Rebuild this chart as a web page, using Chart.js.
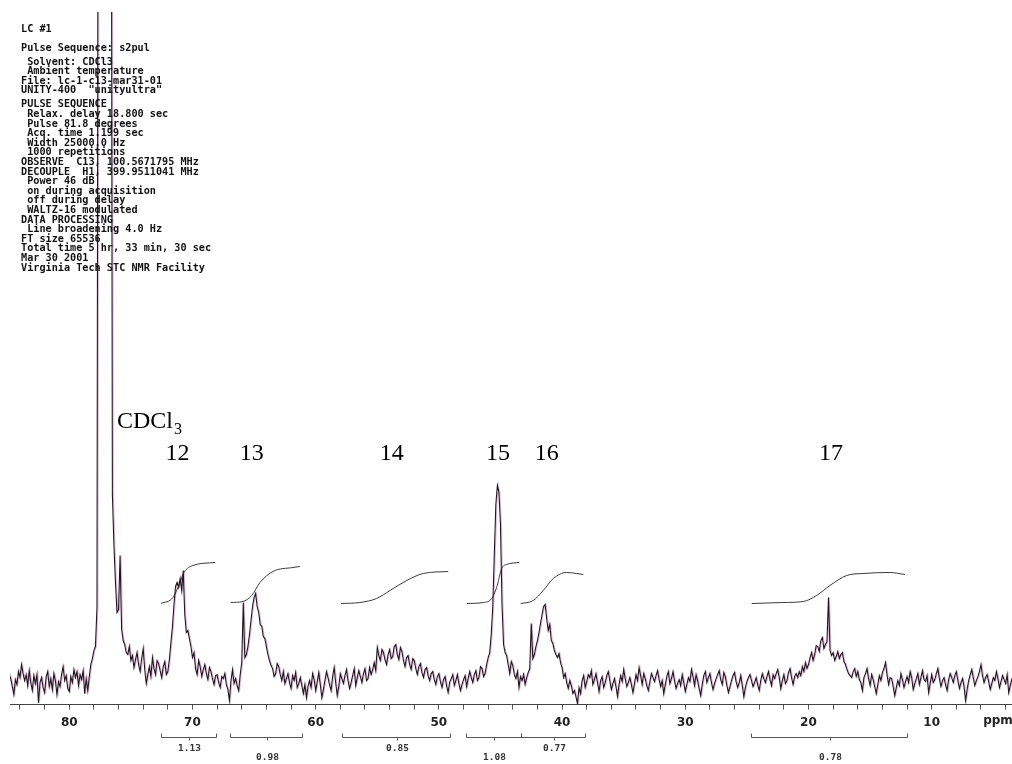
<!DOCTYPE html>
<html>
<head>
<meta charset="utf-8">
<title>LC #1 - 13C NMR</title>
<script src="https://cdn.jsdelivr.net/npm/chart.js@4.4.1/dist/chart.umd.min.js"></script>
<style>
  html, body { margin: 0; padding: 0; background: #fff; }
</style>
</head>
<body>
<canvas id="spectrum" width="1012" height="764"></canvas>
<script>
// trace sampled every 0.125 ppm from 85 ppm downwards, one row per ppm
const gridStart = 85;
const gridStep = 0.125;
const intensity = [
  22, 30, 26, 18, 10, 25, 20, 33,              // 85
  27, 40, 31, 24, 30, 19, 34, 22,              // 84
  14, 29, 21, 30, 2, 22, 27, 17,               // 83
  12, 28, 33, 18, 26, 15, 31, 24,              // 82
  10, 23, 18, 30, 38, 24, 29, 16,              // 81
  13, 28, 22, 35, 27, 33, 19, 30,              // 80
  25, 34, 11, 26, 14, 28, 40, 46,              // 79
  54, 58, 97, 1200, 1500, 1400, 1700, 1500,    // 78  CDCl3
  1800, 1500, 1600, 1200, 210, 160, 122, 92,   // 77
  95, 149, 75, 64, 60, 52, 50, 58,             // 76
  44, 49, 37, 45, 52, 40, 33, 46,              // 75
  56, 35, 21, 30, 38, 28, 47, 36,              // 74
  30, 44, 41, 34, 27, 38, 43, 30,              // 73
  33, 45, 62, 78, 100, 118, 122, 117,          // 72  peak 12
  126, 114, 134, 90, 72, 74, 66, 58,           // 71
  47, 52, 36, 30, 44, 38, 28, 35,              // 70
  40, 31, 25, 37, 33, 26, 20, 29,              // 69
  30, 22, 17, 28, 26, 31, 20, 15,              // 68
  4, 24, 35, 21, 26, 19, 14, 30,               // 67
  42, 102, 47, 50, 58, 70, 84, 98,             // 66  peak 13
  107, 111, 98, 92, 80, 78, 68, 66,            // 65
  58, 50, 44, 39, 36, 28, 31, 41,              // 64
  38, 30, 24, 33, 21, 26, 31, 22,              // 63
  16, 29, 24, 32, 17, 21, 27, 19,              // 62
  11, 20, 7, 18, 24, 17, 31, 25,               // 61
  14, 23, 32, 20, 7, 15, 24, 33,               // 60
  27, 20, 14, 28, 37, 22, 9, 18,               // 59
  31, 26, 21, 29, 35, 24, 16, 22,              // 58
  29, 36, 19, 27, 34, 28, 22, 31,              // 57
  36, 24, 26, 37, 30, 35, 42, 34,              // 56
  57, 49, 44, 55, 52, 45, 40, 50,              // 55  peak 14
  55, 46, 48, 58, 60, 50, 45, 57,              // 54
  53, 44, 38, 47, 49, 40, 35, 46,              // 53
  44, 36, 30, 38, 41, 32, 27, 35,              // 52
  37, 29, 24, 31, 33, 25, 20, 28,              // 51
  31, 23, 17, 25, 28, 19, 12, 22,              // 50
  26, 30, 19, 24, 30, 21, 14, 20,              // 49
  25, 29, 18, 26, 33, 27, 22, 30,              // 48
  34, 24, 27, 38, 36, 28, 31, 40,              // 47
  47, 52, 70, 98, 150, 200, 219, 212,          // 46  peak 15
  180, 100, 60, 52, 49, 40, 31, 43,            // 45
  39, 30, 26, 33, 17, 28, 24, 30,              // 44
  20, 27, 32, 36, 81, 46, 50, 58,              // 43  peak 16
  64, 72, 81, 90, 98, 100, 86, 74,             // 42
  80, 64, 61, 54, 50, 47, 51, 42,              // 41
  37, 27, 31, 22, 16, 24, 19, 11,              // 40
  14, 8, 1, 17, 11, 24, 29, 17,                // 39
  23, 30, 27, 34, 20, 25, 31, 22,              // 38
  13, 24, 28, 17, 22, 29, 33, 24,              // 37
  15, 21, 26, 18, 8, 20, 29, 23,               // 36
  35, 26, 18, 22, 27, 20, 12, 21,              // 35
  30, 24, 37, 29, 20, 31, 26, 19,              // 34
  14, 23, 31, 27, 23, 29, 34, 25,              // 33
  18, 24, 11, 20, 28, 33, 21, 26,              // 32
  33, 24, 16, 21, 25, 19, 30, 22,              // 31
  13, 20, 27, 23, 35, 28, 19, 30,              // 30
  24, 16, 9, 20, 29, 33, 22, 27,               // 29
  31, 22, 15, 21, 26, 30, 34, 25,              // 28
  20, 32, 28, 19, 12, 18, 24, 29,              // 27
  32, 23, 17, 22, 29, 19, 8, 17,               // 26
  23, 27, 30, 24, 18, 22, 27, 20,              // 25
  14, 24, 31, 26, 22, 28, 33, 25,              // 24
  19, 30, 26, 31, 35, 27, 16, 24,              // 23
  30, 21, 24, 32, 36, 27, 20, 28,              // 22
  31, 27, 33, 29, 38, 33, 42, 36,              // 21  peak 17
  40, 47, 52, 44, 50, 59, 58, 53,              // 20
  64, 67, 56, 60, 63, 107, 54, 49,             // 19
  52, 44, 48, 53, 46, 50, 52, 43,              // 18
  40, 35, 31, 29, 27, 33, 36, 28,              // 17
  33, 25, 22, 14, 27, 31, 36, 26,              // 16
  19, 30, 25, 18, 11, 20, 29, 24,              // 15
  32, 36, 42, 30, 20, 27, 26, 18,              // 14
  9, 17, 24, 19, 31, 25, 17, 23,               // 13
  28, 22, 33, 27, 15, 21, 26, 31,              // 12
  20, 27, 34, 25, 23, 29, 12, 21,              // 11
  30, 22, 25, 31, 36, 26, 18, 24,              // 10
  27, 20, 14, 25, 31, 27, 22, 29,              // 9
  33, 24, 16, 22, 26, 18, 4, 15,               // 8
  24, 30, 35, 27, 19, 24, 28, 33,              // 7
  40, 29, 22, 27, 30, 23, 15, 21,              // 6
  27, 24, 33, 26, 17, 23, 29, 25,              // 5
  21, 30, 12, 19, 25, 20, 28, 22               // 4
];

// integral curves drawn above peaks 12..17
const integralShift = [
  [72.56, 71.58, 71.01, 70.69, 69.96, 68.18],
  [66.9, 65.92, 65.19, 64.52, 63.47, 61.84, 61.28],
  [57.95, 56.41, 55.05, 53.97, 52.61, 51.27, 49.24],
  [47.74, 46.4, 45.71, 45.31, 44.9, 44.5, 43.47],
  [43.36, 42.34, 41.53, 40.71, 39.63, 38.81, 38.28],
  [24.61, 22.05, 20.42, 19.34, 18.26, 16.9, 15.55, 13.39, 12.17]
];
const integralHeight = [
  [101, 107, 122, 132, 139, 142],
  [102, 103, 109, 122, 133, 137, 138],
  [101, 102, 106, 114, 124, 131, 133],
  [101, 102, 106, 117, 136, 140, 142],
  [101, 104, 114, 126, 132, 131, 130],
  [101, 102, 103, 109, 119, 129, 131, 132, 130]
];

// integral values under the axis and their ranges
const integralLabels = ['1.13', '0.98', '0.85', '1.08', '0.77', '0.78'];
const integralFrom = [72.56, 66.96, 57.88, 47.8, 43.36, 24.67];
const integralTo = [68.12, 61.11, 49.1, 43.36, 38.14, 12.01];

// peak assignments
const peakLabels = ['12', '13', '14', '15', '16', '17'];
const peakLabelPpm = [71.21, 65.19, 53.83, 45.2, 41.25, 18.18];
const solventLabelPpm = 76.13;

// axis ticks
const axisTicks = [84, 82, 80, 78, 76, 74, 72, 70, 68, 66, 64, 62, 60, 58, 56, 54, 52, 50, 48, 46, 44, 42, 40, 38, 36, 34, 32, 30, 28, 26, 24, 22, 20, 18, 16, 14, 12, 10, 8, 6, 4];
const labelledTicks = [80, 70, 60, 50, 40, 30, 20, 10];

const headerGroups = [
  ['LC #1'],
  ['Pulse Sequence: s2pul'],
  [' Solvent: CDCl3', ' Ambient temperature', 'File: lc-1-c13-mar31-01', 'UNITY-400  "unityultra"'],
  ['PULSE SEQUENCE', ' Relax. delay 18.800 sec', ' Pulse 81.8 degrees', ' Acq. time 1.199 sec',
   ' Width 25000.0 Hz', ' 1000 repetitions', 'OBSERVE  C13, 100.5671795 MHz',
   'DECOUPLE  H1, 399.9511041 MHz', ' Power 46 dB', ' on during acquisition',
   ' off during delay', ' WALTZ-16 modulated', 'DATA PROCESSING', ' Line broadening 4.0 Hz',
   'FT size 65536', 'Total time 5 hr, 33 min, 30 sec', 'Mar 30 2001', 'Virginia Tech STC NMR Facility']
];

// colour fringe of the scanned trace
const fringe = {
  id: 'fringe',
  beforeDatasetDraw(chart, args) {
    if (args.index !== 0) return;
    chart.ctx.save();
    chart.ctx.shadowColor = 'rgba(200, 40, 170, 0.35)';
    chart.ctx.shadowOffsetX = 1;
    chart.ctx.shadowBlur = 0;
  },
  afterDatasetDraw(chart, args) {
    if (args.index === 0) chart.ctx.restore();
  }
};

const annotations = {
  id: 'nmrAnnotations',
  afterDraw(chart) {
    const ctx = chart.ctx;
    const x = chart.scales.x;
    ctx.save();

    // acquisition parameters, top left
    ctx.fillStyle = '#111';
    ctx.textBaseline = 'middle';
    ctx.textAlign = 'left';
    ctx.font = 'bold 10.2px "DejaVu Sans Mono"';
    let y = 29;
    headerGroups.forEach((group, g) => {
      if (g > 0) y += (g === 1 ? 19 : 14);
      group.forEach((line, i) => {
        if (i > 0) y += 9.6;
        ctx.fillText(line, 21, y);
      });
    });

    // peak labels
    ctx.textBaseline = 'alphabetic';
    ctx.fillStyle = '#000';
    ctx.font = '24px "Liberation Serif"';
    const sx = x.getPixelForValue(solventLabelPpm);
    ctx.fillText('CDCl', sx, 428);
    const w = ctx.measureText('CDCl').width;
    ctx.font = '16px "Liberation Serif"';
    ctx.fillText('3', sx + w + 1, 434);
    ctx.font = '24px "Liberation Serif"';
    ctx.textAlign = 'center';
    peakLabels.forEach((t, i) => ctx.fillText(t, x.getPixelForValue(peakLabelPpm[i]), 460));

    // integral brackets
    ctx.strokeStyle = '#555';
    ctx.lineWidth = 1;
    ctx.fillStyle = '#333';
    ctx.font = 'bold 9.5px "DejaVu Sans Mono"';
    ctx.textBaseline = 'middle';
    const by = 737.5;
    integralLabels.forEach((t, i) => {
      const xa = Math.round(x.getPixelForValue(integralFrom[i])) + 0.5;
      const xb = Math.round(x.getPixelForValue(integralTo[i])) + 0.5;
      const xm = Math.round((xa + xb) / 2) + 0.5;
      ctx.beginPath();
      ctx.moveTo(xa, by - 4); ctx.lineTo(xa, by); ctx.lineTo(xb, by); ctx.lineTo(xb, by - 4);
      ctx.moveTo(xm, by); ctx.lineTo(xm, by + 3);
      ctx.stroke();
      ctx.fillText(t, xm, i % 2 === 1 ? 758 : 749);
    });

    // unit
    ctx.fillStyle = '#222';
    ctx.font = 'bold 12px "DejaVu Sans"';
    ctx.fillText('ppm', 998, 721);
    ctx.restore();
  }
};

const datasets = [{
  data: intensity.map((v, i) => ({ x: gridStart - i * gridStep, y: v })),
  borderColor: '#1a1a1a',
  borderWidth: 1.1,
  pointRadius: 0
}];
integralShift.forEach((s, k) => {
  datasets.push({
    data: s.map((p, i) => ({ x: p, y: integralHeight[k][i] })),
    borderColor: '#3a3a3a',
    borderWidth: 1,
    pointRadius: 0,
    cubicInterpolationMode: 'monotone'
  });
});

new Chart(document.getElementById('spectrum'), {
  type: 'line',
  data: { datasets },
  options: {
    responsive: false,
    animation: false,
    layout: { padding: { left: 10, right: 0, top: 12, bottom: 28 } },
    plugins: { legend: { display: false }, tooltip: { enabled: false } },
    scales: {
      x: {
        type: 'linear',
        reverse: true,
        min: 3.48,
        max: 84.81,
        afterBuildTicks: axis => { axis.ticks = axisTicks.map(v => ({ value: v })); },
        ticks: {
          autoSkip: false,
          maxRotation: 0,
          padding: 6,
          color: '#222',
          font: { family: 'DejaVu Sans', size: 12, weight: 'bold' },
          callback: v => labelledTicks.includes(v) ? String(v) : ''
        },
        grid: { drawOnChartArea: false, tickLength: 5, tickColor: '#555' },
        border: { color: '#444', width: 1 }
      },
      y: { display: false, min: 0, max: 692 }
    }
  },
  plugins: [fringe, annotations]
});
</script>
</body>
</html>
